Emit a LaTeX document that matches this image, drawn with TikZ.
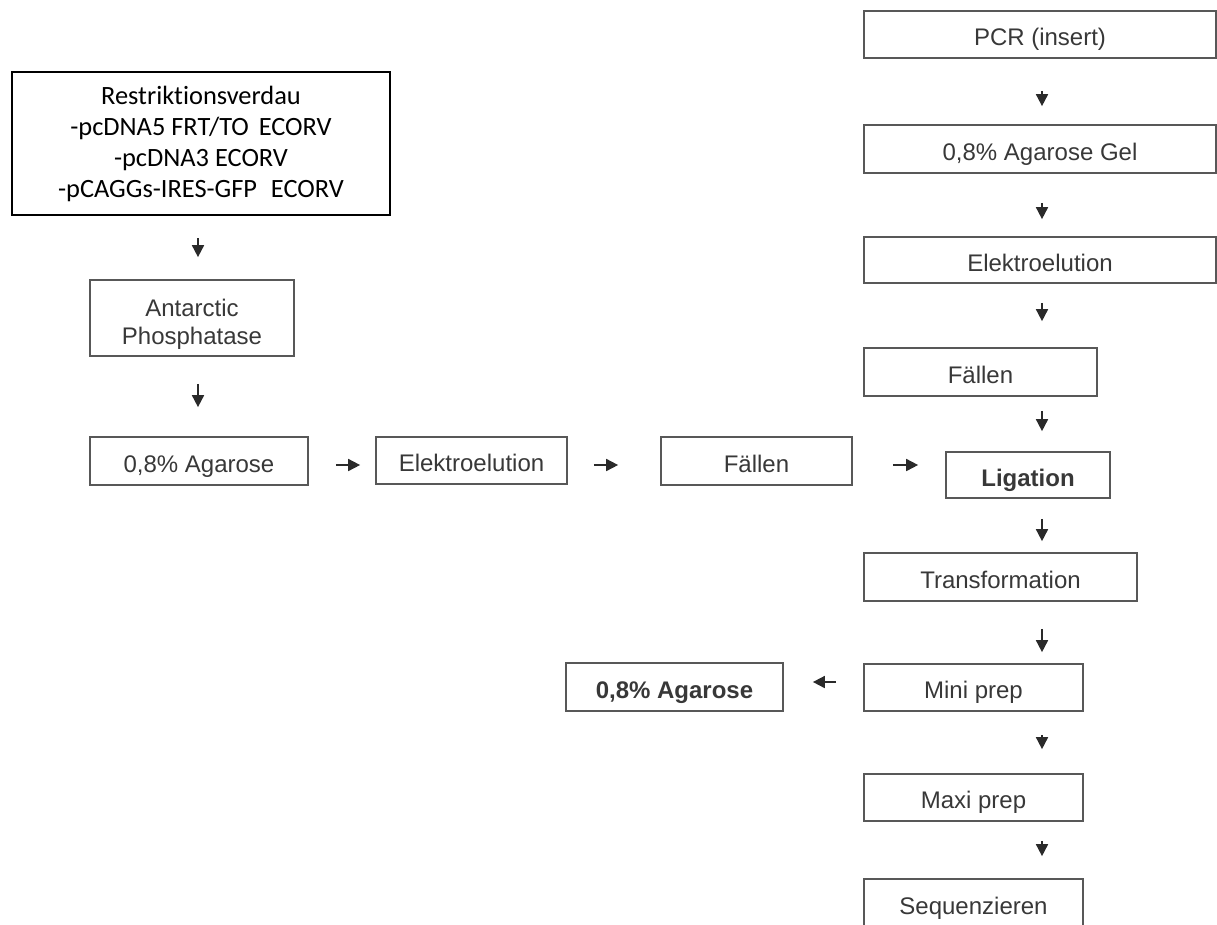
\documentclass[tikz,border=0pt]{standalone}
\usepackage{fontspec}
\setmainfont{Liberation Sans}
\newfontfamily\carlito[Ligatures={NoCommon}]{Carlito}
\usetikzlibrary{arrows.meta}
\definecolor{txt}{HTML}{383838}
\definecolor{brd}{HTML}{585858}
\definecolor{arc}{HTML}{2A2A2A}
\tikzset{
 box/.style={draw=brd, line width=1.7pt, inner sep=0pt, text=txt, font=\fontsize{24}{28}\selectfont, text height=25pt, text depth=3pt},
 boldbox/.style={box, font=\bfseries\fontsize{24}{28}\selectfont},
 twobox/.style={draw=brd, line width=1.7pt, inner sep=0pt, text=txt, font=\fontsize{24}{28}\selectfont, align=center},
 blackbox/.style={draw=black, line width=2.6pt, inner sep=0pt, text=black, font=\carlito\fontsize{26.4}{31}\selectfont, align=center},
 arr/.style={draw=arc, line width=1.7pt, -{Triangle[length=12pt,width=12pt]}},
}
\begin{document}
\begin{tikzpicture}[x=1pt,y=-1pt]
\useasboundingbox (0,0) rectangle (1217,924);
\clip (0,0) rectangle (1217,924);
% left column
\node[blackbox, minimum width=378pt, minimum height=143pt] (restr) at (201,143.5) {Restriktionsverdau\\-pcDNA5 FRT/TO\hspace{4pt} ECORV\\-pcDNA3 ECORV\\-pCAGGs-IRES-GFP\hspace{8pt} ECORV};
\node[twobox, minimum width=204pt, minimum height=76pt] (anta) at (192,318) {\rule{0pt}{30pt}Antarctic\\Phosphatase};
\node[box, minimum width=218pt, minimum height=48pt] (ag1) at (199,461) {0,8\% Agarose};
\node[box, minimum width=191pt, minimum height=47pt] (el1) at (471.5,460.5) {Elektroelution};
\node[box, minimum width=191pt, minimum height=48pt] (fa1) at (756.5,461) {Fällen};
\node[boldbox, minimum width=164pt, minimum height=46pt] (lig) at (1028,475) {Ligation};
% right column
\node[box, minimum width=352pt, minimum height=47pt] (pcr) at (1040,34.5) {PCR (insert)};
\node[box, minimum width=352pt, minimum height=48pt] (gel) at (1040,149) {0,8\% Agarose Gel};
\node[box, minimum width=352pt, minimum height=46pt] (el2) at (1040,260) {Elektroelution};
\node[box, minimum width=233pt, minimum height=48pt] (fa2) at (980.5,372) {Fällen};
\node[box, minimum width=273pt, minimum height=48pt] (tra) at (1000.5,577) {Transformation};
\node[box, minimum width=219pt, minimum height=47pt] (mini) at (973.5,687.5) {Mini prep};
\node[boldbox, minimum width=217pt, minimum height=48pt] (ag2) at (674.5,687) {0,8\% Agarose};
\node[box, minimum width=219pt, minimum height=47pt] (maxi) at (973.5,797.5) {Maxi prep};
\node[box, minimum width=219pt, minimum height=48pt] (seq) at (973.5,903) {Sequenzieren};
% arrow guide coordinates
\coordinate (lx) at (198,0);
\coordinate (rx) at (1042,0);
\coordinate (hy) at (0,465);
\coordinate (my) at (0,682);
% left vertical arrows
\draw[arr, shorten <=22pt, shorten >=22pt] (restr.south -| lx) -- (anta.north -| lx);
\draw[arr, shorten <=27pt, shorten >=29pt] (anta.south -| lx) -- (ag1.north -| lx);
% horizontal arrows
\draw[arr, shorten <=27pt, shorten >=15pt] (ag1.east |- hy) -- (el1.west |- hy);
\draw[arr, shorten <=26pt, shorten >=42pt] (el1.east |- hy) -- (fa1.west |- hy);
\draw[arr, shorten <=40pt, shorten >=27pt] (fa1.east |- hy) -- (lig.west |- hy);
\draw[arr, shorten <=27pt, shorten >=29pt] (mini.west |- my) -- (ag2.east |- my);
% right vertical arrows
\draw[arr, shorten <=32pt, shorten >=18pt] (pcr.south -| rx) -- (gel.north -| rx);
\draw[arr, shorten <=29pt, shorten >=17pt] (gel.south -| rx) -- (el2.north -| rx);
\draw[arr, shorten <=19pt, shorten >=26pt] (el2.south -| rx) -- (fa2.north -| rx);
\draw[arr, shorten <=14pt, shorten >=20pt] (fa2.south -| rx) -- (lig.north -| rx);
\draw[arr, shorten <=20pt, shorten >=11pt] (lig.south -| rx) -- (tra.north -| rx);
\draw[arr, shorten <=27pt, shorten >=11pt] (tra.south -| rx) -- (mini.north -| rx);
\draw[arr, shorten <=23pt, shorten >=24pt] (mini.south -| rx) -- (maxi.north -| rx);
\draw[arr, shorten <=19pt, shorten >=22pt] (maxi.south -| rx) -- (seq.north -| rx);
\end{tikzpicture}
\end{document}
